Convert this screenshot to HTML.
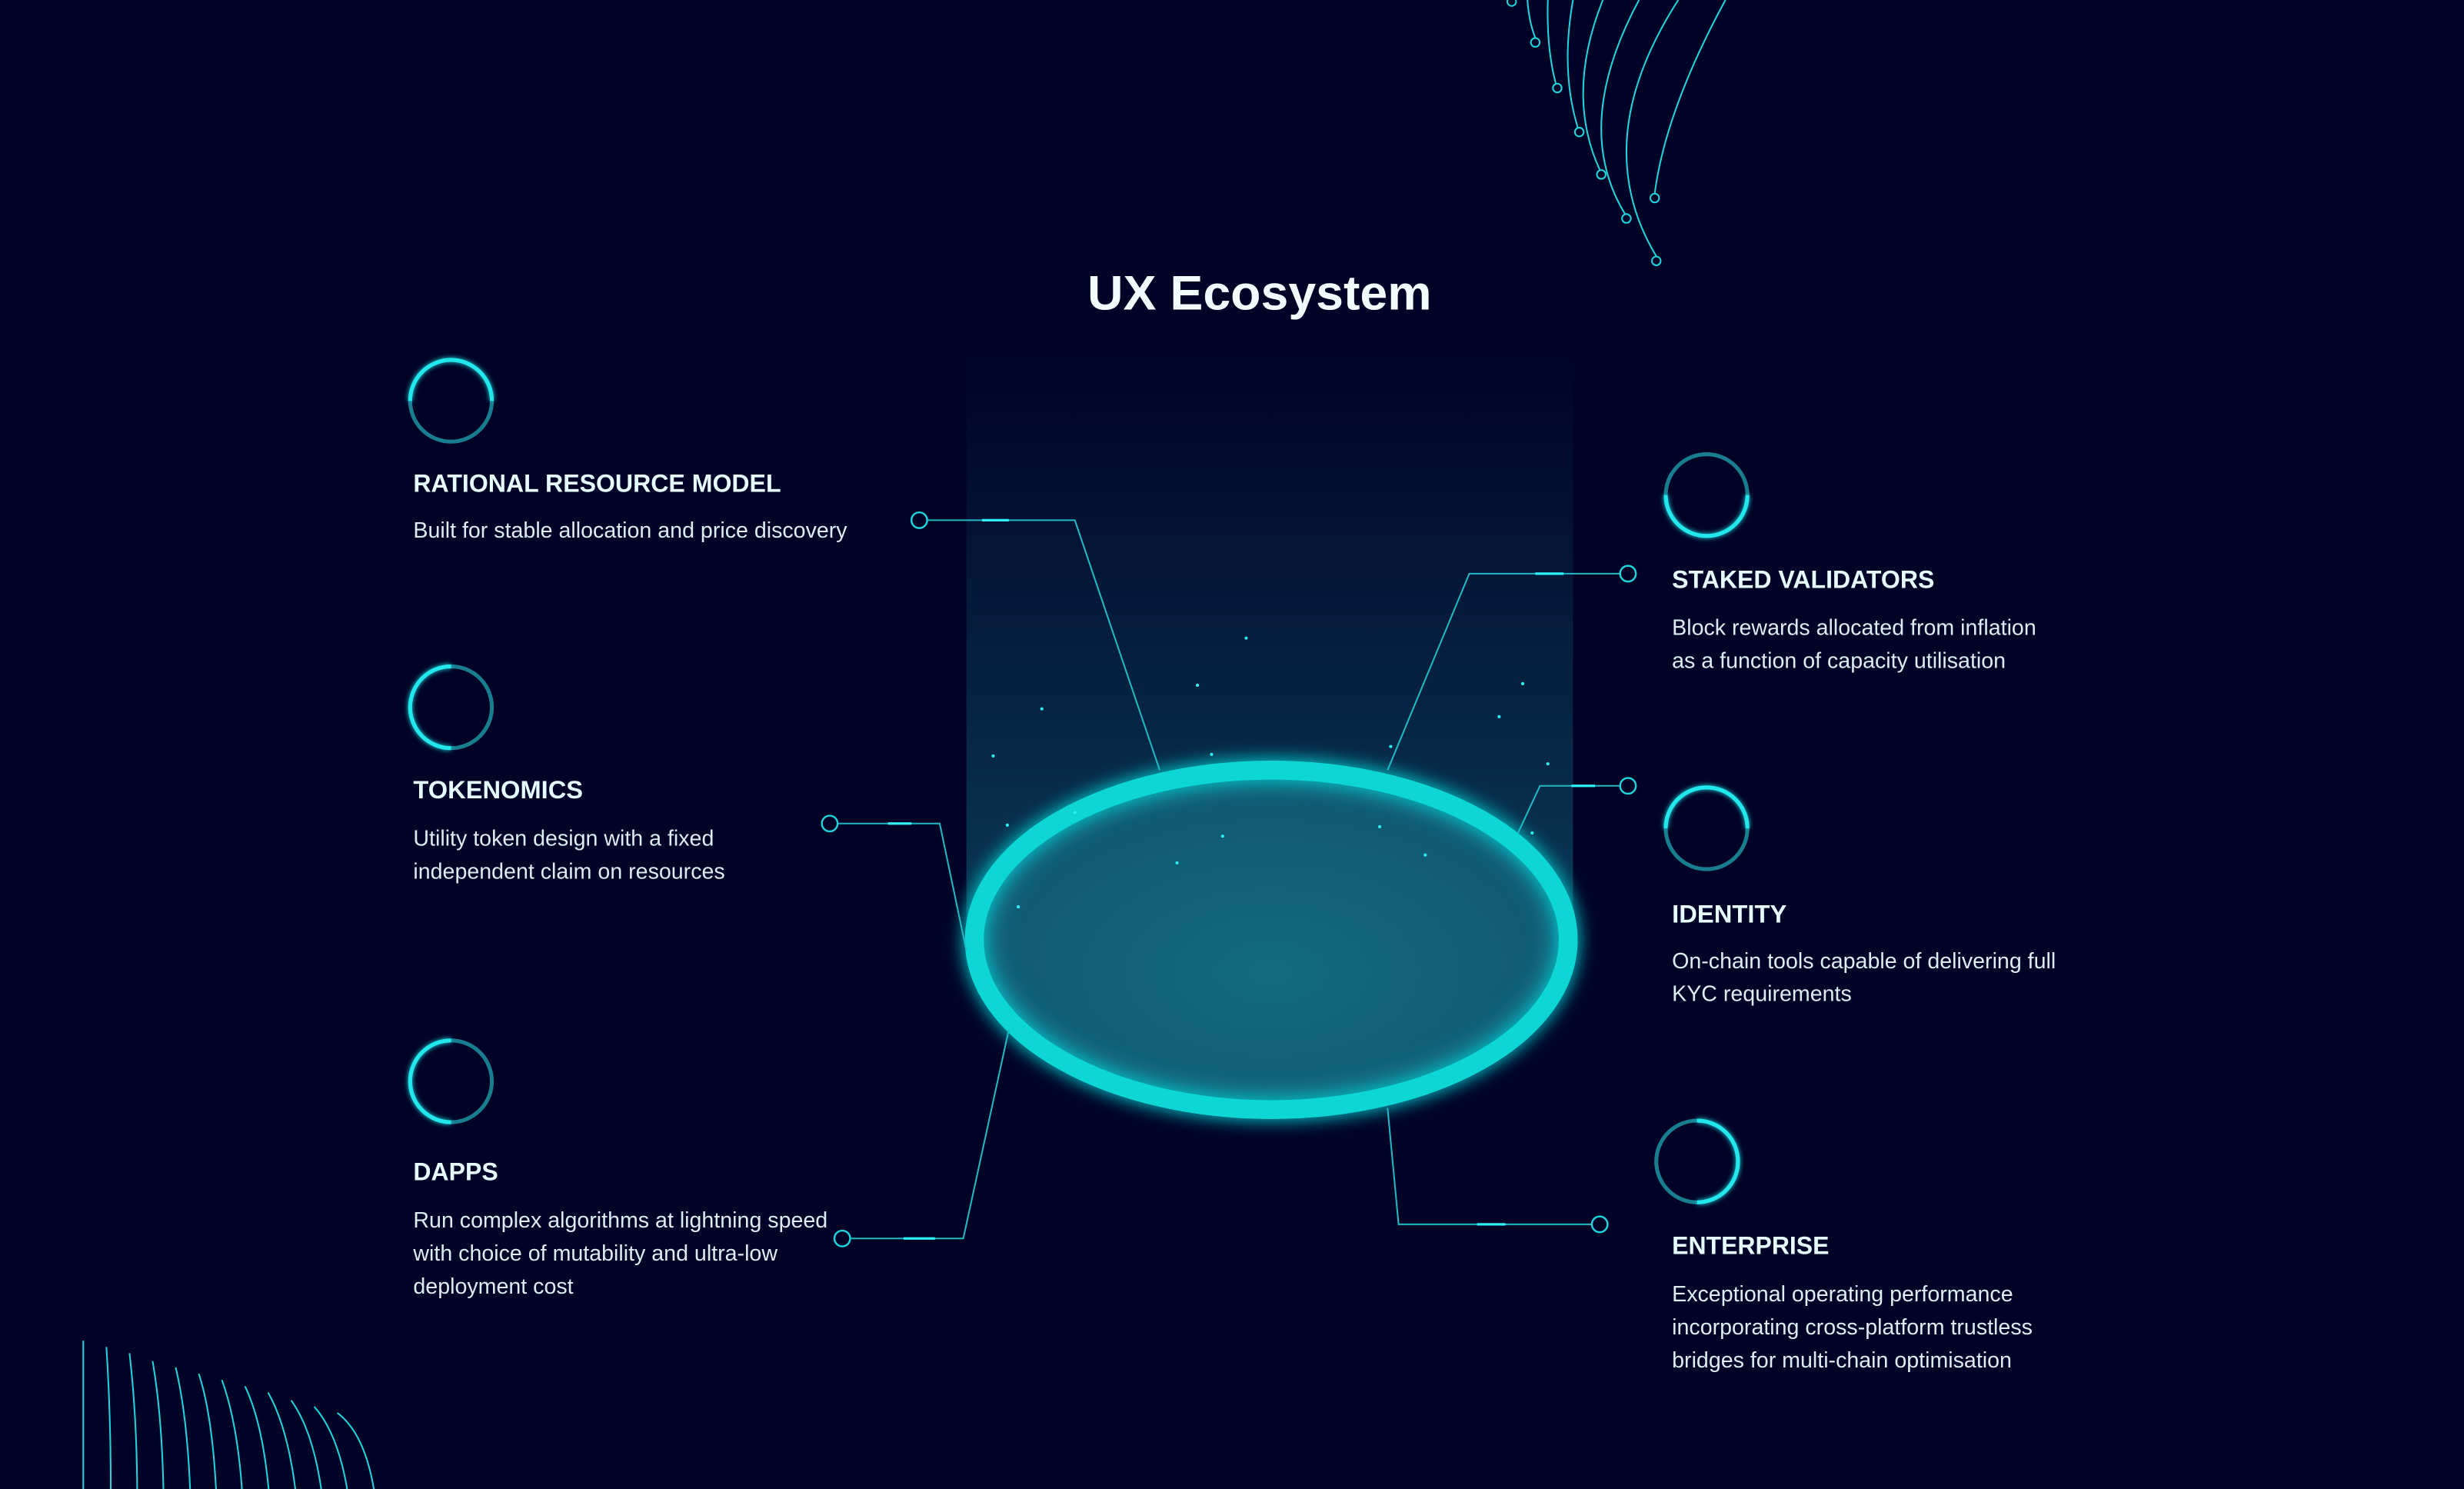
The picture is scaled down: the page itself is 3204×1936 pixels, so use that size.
<!DOCTYPE html>
<html><head><meta charset="utf-8"><style>
html,body{margin:0;padding:0;background:#000326;}
svg{display:block;}
.h{font-family:"Liberation Sans",sans-serif;font-weight:bold;font-size:16px;fill:#e6fbff;}
.b{font-family:"Liberation Sans",sans-serif;font-size:14px;fill:#dcecf2;}
.c{fill:none;stroke:#1fb9c4;stroke-width:1;}
.e{fill:none;stroke:#1fd4dc;stroke-width:1.2;}
.hl{stroke:#2ff0f5;stroke-width:1.6;}
.dim{fill:none;stroke:#177d8f;stroke-width:2.5;}
.br{fill:none;stroke:#22e8ee;stroke-width:2.5;filter:url(#g1);}
.t{fill:none;stroke:#1fd4dc;stroke-width:1;}
.s{fill:#2ff0f5;}
</style></head><body>
<svg width="3204" height="1936" viewBox="0 0 1568 947.4" preserveAspectRatio="none">
<defs>
<linearGradient id="col" x1="0" y1="0" x2="0" y2="1">
<stop offset="0" stop-color="#000326"/>
<stop offset="0.25" stop-color="#031031"/>
<stop offset="1" stop-color="#0a3a56"/>
</linearGradient>
<radialGradient id="inn" cx="0.5" cy="0.6" r="0.6">
<stop offset="0" stop-color="#136a7e"/>
<stop offset="1" stop-color="#0f5670"/>
</radialGradient>
<filter id="g1" x="-50%" y="-50%" width="200%" height="200%"><feGaussianBlur stdDeviation="1.5" result="b"/><feMerge><feMergeNode in="b"/><feMergeNode in="SourceGraphic"/></feMerge></filter>
<filter id="g2" x="-20%" y="-30%" width="140%" height="160%"><feGaussianBlur stdDeviation="6" result="b"/><feMerge><feMergeNode in="b"/><feMergeNode in="SourceGraphic"/></feMerge></filter>
<filter id="g3" x="-20%" y="-30%" width="140%" height="160%"><feGaussianBlur stdDeviation="8"/></filter>
</defs>
<rect width="1568" height="948" fill="#000326"/>
<rect x="615" y="225" width="386" height="375" fill="url(#col)"/>
<ellipse cx="809" cy="597" rx="190" ry="109" fill="url(#inn)"/>
<ellipse cx="809" cy="597" rx="182" ry="102" fill="none" stroke="#1a8196" stroke-width="10" filter="url(#g3)" opacity="0.8"/>
<ellipse cx="809" cy="598" rx="189" ry="108" fill="none" stroke="#0fd6d5" stroke-width="12" filter="url(#g2)"/>
<g class="s">
<circle cx="793" cy="406" r="1"/><circle cx="762" cy="436" r="1"/><circle cx="663" cy="451" r="1"/><circle cx="632" cy="481" r="1"/>
<circle cx="969" cy="435" r="1"/><circle cx="954" cy="456" r="1"/><circle cx="985" cy="486" r="1"/><circle cx="885" cy="475" r="1"/>
<circle cx="771" cy="480" r="1"/><circle cx="684" cy="517" r="1"/><circle cx="641" cy="525" r="1"/><circle cx="778" cy="532" r="1"/>
<circle cx="878" cy="526" r="1"/><circle cx="907" cy="544" r="1"/><circle cx="749" cy="549" r="1"/><circle cx="648" cy="577" r="1"/><circle cx="975" cy="530" r="1"/>
</g>
<polyline class="c" points="590,331 684,331 738,490"/><line class="hl" x1="625" y1="331" x2="642" y2="331"/><circle class="e" cx="585" cy="331" r="5"/>
<polyline class="c" points="1031,365 935,365 883,490"/><line class="hl" x1="977" y1="365" x2="995" y2="365"/><circle class="e" cx="1036" cy="365" r="5"/>
<polyline class="c" points="533,524 598,524 615,605"/><line class="hl" x1="565" y1="524" x2="580" y2="524"/><circle class="e" cx="528" cy="524" r="5"/>
<polyline class="c" points="1031,500 980,500 966,530"/><line class="hl" x1="1000" y1="500" x2="1015" y2="500"/><circle class="e" cx="1036" cy="500" r="5"/>
<polyline class="c" points="541,788 613,788 642,655"/><line class="hl" x1="575" y1="788" x2="595" y2="788"/><circle class="e" cx="536" cy="788" r="5"/>
<polyline class="c" points="1013,779 890,779 883,705"/><line class="hl" x1="940" y1="779" x2="958" y2="779"/><circle class="e" cx="1018" cy="779" r="5"/>
<circle class="dim" cx="287" cy="255" r="26"/><path class="br" d="M261 255 A26 26 0 0 1 313 255"/>
<circle class="dim" cx="287" cy="450" r="26"/><path class="br" d="M287 476 A26 26 0 0 1 287 424"/>
<circle class="dim" cx="287" cy="688" r="26"/><path class="br" d="M287 714 A26 26 0 0 1 287 662"/>
<circle class="dim" cx="1086" cy="315" r="26"/><path class="br" d="M1112 315 A26 26 0 0 1 1060 315"/>
<circle class="dim" cx="1086" cy="527" r="26"/><path class="br" d="M1060 527 A26 26 0 0 1 1112 527"/>
<circle class="dim" cx="1080" cy="739" r="26"/><path class="br" d="M1080 713 A26 26 0 0 1 1080 765"/>
<text x="692" y="197" textLength="219" lengthAdjust="spacingAndGlyphs" font-family="Liberation Sans, sans-serif" font-weight="bold" font-size="31" fill="#f2fbff">UX Ecosystem</text>
<text class="h" x="263" y="313" textLength="234" lengthAdjust="spacingAndGlyphs">RATIONAL RESOURCE MODEL</text>
<text class="b" x="263" y="342">Built for stable allocation and price discovery</text>
<text class="h" x="263" y="508" textLength="108" lengthAdjust="spacingAndGlyphs">TOKENOMICS</text>
<text class="b" x="263" y="538">Utility token design with a fixed</text>
<text class="b" x="263" y="559">independent claim on resources</text>
<text class="h" x="263" y="751" textLength="54" lengthAdjust="spacingAndGlyphs">DAPPS</text>
<text class="b" x="263" y="781">Run complex algorithms at lightning speed</text>
<text class="b" x="263" y="802">with choice of mutability and ultra-low</text>
<text class="b" x="263" y="823">deployment cost</text>
<text class="h" x="1064" y="374" textLength="167" lengthAdjust="spacingAndGlyphs">STAKED VALIDATORS</text>
<text class="b" x="1064" y="404">Block rewards allocated from inflation</text>
<text class="b" x="1064" y="425">as a function of capacity utilisation</text>
<text class="h" x="1064" y="587" textLength="73" lengthAdjust="spacingAndGlyphs">IDENTITY</text>
<text class="b" x="1064" y="616">On-chain tools capable of delivering full</text>
<text class="b" x="1064" y="637">KYC requirements</text>
<text class="h" x="1064" y="798" textLength="100" lengthAdjust="spacingAndGlyphs">ENTERPRISE</text>
<text class="b" x="1064" y="828">Exceptional operating performance</text>
<text class="b" x="1064" y="849">incorporating cross-platform trustless</text>
<text class="b" x="1064" y="870">bridges for multi-chain optimisation</text>
<g class="t">
<path d="M960 -10 Q962 -3 962 0"/><circle cx="962" cy="1" r="2.8"/>
<path d="M972 0 Q973 14 977 24"/><circle cx="977" cy="27" r="2.8"/>
<path d="M985 0 Q984 30 990 53"/><circle cx="991" cy="56" r="2.8"/>
<path d="M1001 0 Q993 45 1004 81"/><circle cx="1005" cy="84" r="2.8"/>
<path d="M1020 0 Q996 60 1018 108"/><circle cx="1019" cy="111" r="2.8"/>
<path d="M1043 0 Q1000 80 1034 136"/><circle cx="1035" cy="139" r="2.8"/>
<path d="M1068 0 Q1010 90 1054 163"/><circle cx="1054" cy="166" r="2.8"/>
<path d="M1098 0 Q1060 70 1053 123"/><circle cx="1053" cy="126" r="2.8"/>
</g>
<g class="t" stroke-width="1.1">
<path d="M53 853 Q53 900 53 948"/>
<path d="M67.7 857 Q70.5 900 70.5 948"/>
<path d="M82.4 861 Q87 900 87.3 948"/>
<path d="M97.1 866 Q103 900 104 948"/>
<path d="M111.8 870 Q119 900 121 948"/>
<path d="M126.5 874 Q135 900 137.5 948"/>
<path d="M141.2 878 Q151 905 154 948"/>
<path d="M155.9 882 Q167 905 171 948"/>
<path d="M170.6 886 Q183 908 188 948"/>
<path d="M185.3 891 Q199 910 204.5 948"/>
<path d="M200 895 Q215 912 221 948"/>
<path d="M214.7 899 Q232 912 238 948"/>
</g>
</svg>
</body></html>
